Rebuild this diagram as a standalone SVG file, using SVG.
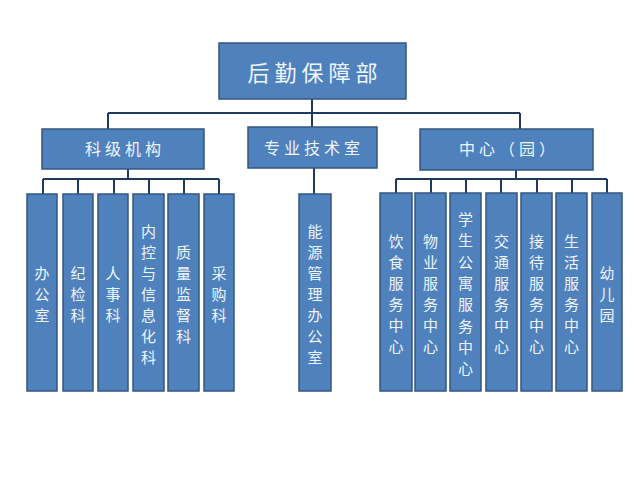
<svg xmlns="http://www.w3.org/2000/svg" width="640" height="480" viewBox="0 0 640 480">
<style>
.box{fill:#4F81BD;stroke:#34557F;stroke-width:1.5}
.ln{fill:none;stroke:#1F3A60;stroke-width:2}
text{font-family:"Noto Sans CJK SC","Noto Sans",sans-serif;fill:#EEF6FF;text-anchor:middle;dominant-baseline:central}
.t1{font-size:22px;letter-spacing:5px}
.t2{font-size:16px;letter-spacing:4px}
.v{font-size:15px}
</style>
<rect width="640" height="480" fill="#FFFFFF"/>
<g id="connectors">
<path class="ln" d="M312,99 V127 M108,113 H520 M108,113 V129 M520,113 V129"/>
<path class="ln" d="M128,169 V179 M43,179 H219 M43,179 V194 M78,179 V194 M114,179 V194 M149,179 V194 M184,179 V194 M219,179 V194"/>
<path class="ln" d="M314,168 V194"/>
<path class="ln" d="M516,170 V179 M396,179 H607 M396,179 V193 M431,179 V193 M466,179 V193 M501,179 V193 M537,179 V193 M572,179 V193 M607,179 V193"/>
</g>
<g id="root"><rect class="box" x="219" y="43" width="187" height="56"/><text class="t1" x="315" y="71">后勤保障部</text></g>
<g id="keji"><rect class="box" x="42" y="129" width="162" height="40"/><text class="t2" x="125" y="148">科级机构</text></g>
<g id="zhuanye"><rect class="box" x="248" y="127" width="129" height="41"/><text class="t2" x="314" y="147">专业技术室</text></g>
<g id="zhongxin"><rect class="box" x="420" y="129" width="173" height="41"/><text class="t2" x="509" y="148">中心（园）</text></g>

<g id="bangongshi"><rect class="box" x="27" y="194" width="30" height="197"/><text class="v"><tspan x="42" y="272">办</tspan><tspan x="42" y="293">公</tspan><tspan x="42" y="314">室</tspan></text></g>
<g id="jijianke"><rect class="box" x="63" y="194" width="30" height="197"/><text class="v"><tspan x="78" y="272">纪</tspan><tspan x="78" y="293">检</tspan><tspan x="78" y="314">科</tspan></text></g>
<g id="renshike"><rect class="box" x="98" y="194" width="30" height="197"/><text class="v"><tspan x="113" y="272">人</tspan><tspan x="113" y="293">事</tspan><tspan x="113" y="314">科</tspan></text></g>
<g id="neikong"><rect class="box" x="133" y="194" width="31" height="197"/><text class="v"><tspan x="148.5" y="230">内</tspan><tspan x="148.5" y="251">控</tspan><tspan x="148.5" y="272">与</tspan><tspan x="148.5" y="293">信</tspan><tspan x="148.5" y="314">息</tspan><tspan x="148.5" y="335">化</tspan><tspan x="148.5" y="356">科</tspan></text></g>
<g id="zhiliang"><rect class="box" x="168" y="194" width="31" height="197"/><text class="v"><tspan x="183.5" y="251">质</tspan><tspan x="183.5" y="272">量</tspan><tspan x="183.5" y="293">监</tspan><tspan x="183.5" y="314">督</tspan><tspan x="183.5" y="335">科</tspan></text></g>
<g id="caigou"><rect class="box" x="204" y="194" width="30" height="197"/><text class="v"><tspan x="219" y="272">采</tspan><tspan x="219" y="293">购</tspan><tspan x="219" y="314">科</tspan></text></g>

<g id="nengyuan"><rect class="box" x="299" y="194" width="32" height="197"/><text class="v"><tspan x="315" y="230">能</tspan><tspan x="315" y="251">源</tspan><tspan x="315" y="272">管</tspan><tspan x="315" y="293">理</tspan><tspan x="315" y="314">办</tspan><tspan x="315" y="335">公</tspan><tspan x="315" y="356">室</tspan></text></g>

<g id="yinshi"><rect class="box" x="380" y="193" width="32" height="198"/><text class="v"><tspan x="396" y="240">饮</tspan><tspan x="396" y="261">食</tspan><tspan x="396" y="282">服</tspan><tspan x="396" y="303">务</tspan><tspan x="396" y="324">中</tspan><tspan x="396" y="345">心</tspan></text></g>
<g id="wuye"><rect class="box" x="415" y="193" width="31" height="198"/><text class="v"><tspan x="430.5" y="240">物</tspan><tspan x="430.5" y="261">业</tspan><tspan x="430.5" y="282">服</tspan><tspan x="430.5" y="303">务</tspan><tspan x="430.5" y="324">中</tspan><tspan x="430.5" y="345">心</tspan></text></g>
<g id="gongyu"><rect class="box" x="450" y="193" width="31" height="198"/><text class="v"><tspan x="465.5" y="218">学</tspan><tspan x="465.5" y="239">生</tspan><tspan x="465.5" y="261">公</tspan><tspan x="465.5" y="282">寓</tspan><tspan x="465.5" y="303">服</tspan><tspan x="465.5" y="325">务</tspan><tspan x="465.5" y="346">中</tspan><tspan x="465.5" y="367">心</tspan></text></g>
<g id="jiaotong"><rect class="box" x="486" y="193" width="31" height="198"/><text class="v"><tspan x="501.5" y="240">交</tspan><tspan x="501.5" y="261">通</tspan><tspan x="501.5" y="282">服</tspan><tspan x="501.5" y="303">务</tspan><tspan x="501.5" y="324">中</tspan><tspan x="501.5" y="345">心</tspan></text></g>
<g id="jiedai"><rect class="box" x="521" y="193" width="31" height="198"/><text class="v"><tspan x="536.5" y="240">接</tspan><tspan x="536.5" y="261">待</tspan><tspan x="536.5" y="282">服</tspan><tspan x="536.5" y="303">务</tspan><tspan x="536.5" y="324">中</tspan><tspan x="536.5" y="345">心</tspan></text></g>
<g id="shenghuo"><rect class="box" x="556" y="193" width="31" height="198"/><text class="v"><tspan x="571.5" y="240">生</tspan><tspan x="571.5" y="261">活</tspan><tspan x="571.5" y="282">服</tspan><tspan x="571.5" y="303">务</tspan><tspan x="571.5" y="324">中</tspan><tspan x="571.5" y="345">心</tspan></text></g>
<g id="youeryuan"><rect class="box" x="592" y="193" width="30" height="198"/><text class="v"><tspan x="607" y="272">幼</tspan><tspan x="607" y="293">儿</tspan><tspan x="607" y="314">园</tspan></text></g>
</svg>
